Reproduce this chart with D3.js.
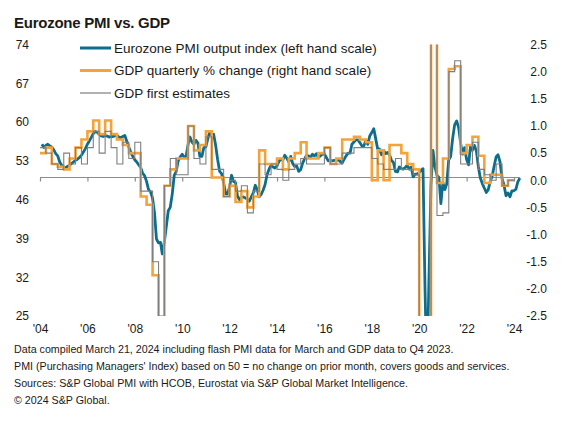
<!DOCTYPE html>
<html>
<head>
<meta charset="utf-8">
<script src="https://cdn.jsdelivr.net/npm/d3@7"></script>
<style>
  html, body { margin: 0; padding: 0; background: #fff; }
  svg { display: block; font-family: Arial, "Liberation Sans", sans-serif; }
</style>
</head>
<body>
<svg id="chart" width="574" height="424"></svg>
<script>
// ---------------- DATA ----------------
const title = "Eurozone PMI vs. GDP";
const seriesNames = [
  "Eurozone PMI output index (left hand scale)",
  "GDP quarterly % change (right hand scale)",
  "GDP first estimates"
];
const pmiStart = [2004, 0]; // monthly from Jan 2004
const pmiValues = [
  // 2004
  56.0, 55.4, 55.8, 56.0, 55.7, 55.5, 55.0, 54.3, 53.9, 52.8, 52.2, 51.8,
  // 2005
  51.8, 52.0, 52.2, 52.5, 52.8, 53.1, 53.3, 53.6, 54.0, 54.6, 55.2, 56.0,
  // 2006
  56.6, 57.2, 57.9, 58.3, 58.2, 57.8, 57.5, 57.4, 57.5, 57.5, 57.3, 57.4,
  // 2007
  57.4, 57.5, 57.6, 57.3, 57.2, 57.4, 57.6, 56.5, 55.5, 54.6, 53.8, 53.2,
  // 2008
  52.8, 52.3, 51.8, 50.8, 50.3, 49.3, 47.8, 47.4, 46.3, 43.6, 38.9, 38.2,
  // 2009
  38.3, 36.2, 38.3, 41.1, 44.0, 44.6, 47.0, 50.4, 51.1, 53.0, 53.7, 54.2,
  // 2010
  53.7, 53.7, 55.9, 57.3, 56.4, 56.0, 56.7, 56.2, 53.8, 53.8, 55.4, 55.5,
  // 2011
  57.0, 58.2, 57.6, 57.8, 55.8, 53.3, 51.1, 50.7, 49.1, 47.1, 47.0, 48.3,
  // 2012
  50.4, 49.3, 49.1, 46.7, 46.0, 46.4, 46.5, 46.3, 46.1, 45.7, 46.5, 47.2,
  // 2013
  48.6, 47.9, 46.5, 46.9, 47.7, 48.7, 50.5, 51.5, 52.2, 51.9, 51.7, 52.1,
  // 2014
  52.9, 53.3, 53.1, 54.0, 53.5, 52.8, 53.8, 52.5, 52.0, 52.1, 51.1, 51.4,
  // 2015
  52.6, 53.3, 54.0, 53.9, 53.6, 54.2, 53.9, 54.3, 53.6, 53.9, 54.2, 54.3,
  // 2016
  53.6, 53.0, 53.1, 53.0, 53.1, 53.1, 53.2, 52.9, 52.6, 53.3, 53.9, 54.4,
  // 2017
  54.4, 56.0, 56.4, 56.8, 56.8, 56.3, 55.7, 55.7, 56.7, 56.0, 57.5, 58.1,
  // 2018
  58.8, 57.1, 55.2, 55.1, 54.1, 54.9, 54.3, 54.5, 54.1, 53.1, 52.7, 51.1,
  // 2019
  51.0, 51.9, 51.6, 51.5, 51.8, 52.2, 51.5, 51.9, 50.1, 50.6, 50.6, 50.9,
  // 2020
  51.3, 51.6, 29.7, 13.6, 31.9, 48.5, 54.9, 51.9, 50.4, 50.0, 45.3, 49.1,
  // 2021
  47.8, 48.8, 53.2, 53.8, 57.1, 59.5, 60.2, 59.0, 56.2, 54.2, 55.4, 53.3,
  // 2022
  52.3, 55.5, 54.9, 55.8, 54.8, 52.0, 49.9, 48.9, 48.1, 47.3, 47.8, 49.3,
  // 2023
  50.3, 52.0, 53.7, 54.1, 52.8, 49.9, 48.6, 46.7, 47.2, 46.5, 47.6, 47.6,
  // 2024
  47.9, 49.2, 49.9
];
const gdpStart = [2004, 0]; // quarterly from Q1 2004
const gdpRevised = [
  0.5, 0.6, 0.3, 0.25,     // 2004
  0.2, 0.4, 0.6, 0.75,     // 2005
  0.9, 1.1, 0.85, 1.1,     // 2006
  0.85, 0.75, 0.65, 0.5,   // 2007
  0.5, -0.3, -0.45, -1.75, // 2008
  -3.1, -0.1, 0.2, 0.4,    // 2009
  0.4, 1.0, 0.55, 0.65,    // 2010
  0.9, 0.05, 0.05, -0.3,   // 2011
  -0.1, -0.4, -0.2, -0.5,  // 2012
  -0.3, 0.55, 0.3, 0.3,    // 2013
  0.4, 0.2, 0.4, 0.5,      // 2014
  0.7, 0.4, 0.4, 0.5,      // 2015
  0.6, 0.3, 0.4, 0.75,     // 2016
  0.75, 0.8, 0.75, 0.7,    // 2017
  0.0, 0.55, 0.0, 0.65,    // 2018
  0.65, 0.5, 0.3, 0.2,     // 2019
  -3.4, -11.2, 11.8, -0.05,// 2020
  0.4, 2.05, 2.1, 0.5,     // 2021
  0.65, 0.8, 0.45, -0.05,  // 2022
  0.1, 0.1, -0.1, 0.0      // 2023
];
const gdpFirst = [
  0.6, 0.5, 0.3, 0.2,      // 2004
  0.5, 0.3, 0.6, 0.3,      // 2005
  0.6, 0.9, 0.5, 0.9,      // 2006
  0.6, 0.3, 0.7, 0.4,      // 2007
  0.7, -0.2, -0.2, -1.5,   // 2008
  -2.5, -0.1, 0.4, 0.1,    // 2009
  0.1, 1.0, 0.4, 0.3,      // 2010
  0.8, 0.2, 0.2, -0.3,     // 2011
  0.0, -0.2, -0.1, -0.6,   // 2012
  -0.2, 0.3, 0.1, 0.3,     // 2013
  0.2, 0.0, 0.2, 0.3,      // 2014
  0.4, 0.3, 0.3, 0.3,      // 2015
  0.6, 0.3, 0.3, 0.5,      // 2016
  0.5, 0.6, 0.6, 0.6,      // 2017
  0.4, 0.3, 0.2, 0.2,      // 2018
  0.4, 0.2, 0.2, 0.1,      // 2019
  -3.8, -12.1, 12.7, -0.65,// 2020
  -0.6, 2.0, 2.2, 0.3,     // 2021
  0.3, 0.7, 0.2, 0.1,      // 2022
  0.0, 0.3, -0.1, 0.0      // 2023
];
const leftTicks = [25, 32, 39, 46, 53, 60, 67, 74];
const rightTicks = [-2.5, -2.0, -1.5, -1.0, -0.5, 0.0, 0.5, 1.0, 1.5, 2.0, 2.5];
const xTickYears = [2004, 2006, 2008, 2010, 2012, 2014, 2016, 2018, 2020, 2022, 2024];
const xTickLabels = ["'04", "'06", "'08", "'10", "'12", "'14", "'16", "'18", "'20", "'22", "'24"];
const footnotes = [
  "Data compiled March 21, 2024 including flash PMI data for March and GDP data to Q4 2023.",
  "PMI (Purchasing Managers' Index) based on 50 = no change on prior month, covers goods and services.",
  "Sources: S&P Global PMI with HCOB, Eurostat via S&P Global Market Intelligence.",
  "\u00A9 2024 S&P Global."
];

// ---------------- CHART ----------------
const COL_PMI = "#0f6d8c";
const COL_GDP = "#f4a33b";
const COL_FIRST = "#7f7f7f";
const TXT = "#1a1a1a";
const FONT = "Arial, 'Liberation Sans', sans-serif";

const svg = d3.select("#chart");
svg.append("rect").attr("width", 574).attr("height", 424).attr("fill", "#fff");

const x = d3.scaleTime()
  .domain([new Date(2004, 0, 1), new Date(2024, 0, 1)])
  .range([40, 514]);
const yL = d3.scaleLinear().domain([25, 74]).range([316, 44.5]);
const yR = d3.scaleLinear().domain([-2.5, 2.5]).range([316, 44.5]);

const pmi = pmiValues.map((v, i) => ({
  date: new Date(pmiStart[0], pmiStart[1] + i + 1, 0),
  v
}));
function quarterly(arr) {
  const recs = arr.map((v, i) => ({ date: new Date(gdpStart[0], gdpStart[1] + i * 3, 1), v }));
  recs.push({ date: new Date(gdpStart[0], gdpStart[1] + arr.length * 3, 1), v: arr[arr.length - 1] });
  return recs;
}
const gdpR = quarterly(gdpRevised);
const gdpF = quarterly(gdpFirst);

svg.append("clipPath").attr("id", "plotclip")
  .append("rect").attr("x", 30).attr("y", 44.5).attr("width", 510).attr("height", 316 - 44.5);

// title
svg.append("text").attr("x", 14).attr("y", 27.5)
  .attr("font-size", 15).attr("font-weight", "bold").attr("fill", TXT)
  .attr("letter-spacing", -0.25)
  .text(title);

// baseline axis at PMI 50 with ticks
const axisY = yL(50);
svg.append("line")
  .attr("x1", x(new Date(2004, 0, 1))).attr("x2", x(pmi[pmi.length - 1].date))
  .attr("y1", axisY).attr("y2", axisY)
  .attr("stroke", "#8c8c8c").attr("stroke-width", 1.2);
const tickAxis = d3.axisBottom(x)
  .tickValues(xTickYears.map(yv => new Date(yv, 0, 1)))
  .tickSize(4).tickFormat("");
const gT = svg.append("g").attr("transform", `translate(0,${axisY})`).call(tickAxis);
gT.select(".domain").remove();
gT.selectAll(".tick line").attr("stroke", "#8c8c8c").attr("stroke-width", 1.2);

// x labels at bottom
const labelAxis = d3.axisBottom(x)
  .tickValues(xTickYears.map(yv => new Date(yv, 0, 1)))
  .tickSize(0).tickPadding(0)
  .tickFormat((d, i) => xTickLabels[i]);
const gX = svg.append("g").attr("transform", "translate(0,324)").call(labelAxis);
gX.select(".domain").remove();
gX.selectAll("text").attr("font-size", 12).attr("fill", TXT).attr("font-family", FONT);

// left axis
const gL = svg.append("g").attr("transform", "translate(29,0)")
  .call(d3.axisLeft(yL).tickValues(leftTicks).tickSize(0).tickPadding(0));
gL.select(".domain").remove();
gL.selectAll("text").attr("font-size", 12).attr("fill", TXT).attr("font-family", FONT);

// right axis
const gR = svg.append("g").attr("transform", "translate(547,0)")
  .call(d3.axisRight(yR).tickValues(rightTicks).tickSize(0).tickPadding(0)
    .tickFormat(d => d.toFixed(1)));
gR.select(".domain").remove();
gR.selectAll("text").attr("font-size", 12).attr("fill", TXT)
  .attr("text-anchor", "end").attr("x", 0).attr("font-family", FONT);

// lines
const plot = svg.append("g").attr("clip-path", "url(#plotclip)");
const linePMI = d3.line().x(d => x(d.date)).y(d => yL(d.v));
const lineGDP = d3.line().x(d => x(d.date)).y(d => yR(d.v)).curve(d3.curveStepAfter);

plot.append("path").datum(pmi).attr("d", linePMI)
  .attr("fill", "none").attr("stroke", COL_PMI).attr("stroke-width", 2.8)
  .attr("stroke-linejoin", "round");
plot.append("path").datum(gdpR).attr("d", lineGDP)
  .attr("fill", "none").attr("stroke", COL_GDP).attr("stroke-width", 2.6);
plot.append("path").datum(gdpF).attr("d", lineGDP)
  .attr("fill", "none").attr("stroke", COL_FIRST).attr("stroke-width", 1.1);

// legend
const legY = [48, 70.5, 93];
const legCol = [COL_PMI, COL_GDP, COL_FIRST];
const legW = [3, 3, 1.2];
const leg = svg.append("g");
seriesNames.forEach((name, i) => {
  leg.append("line").attr("x1", 80).attr("x2", 111)
    .attr("y1", legY[i]).attr("y2", legY[i])
    .attr("stroke", legCol[i]).attr("stroke-width", legW[i]);
  leg.append("text").attr("x", 114).attr("y", legY[i] + 4.7)
    .attr("font-size", 13.5).attr("fill", TXT).text(name);
});

// footnotes
footnotes.forEach((t, i) => {
  svg.append("text").attr("x", 14).attr("y", 352.5 + i * 17)
    .attr("font-size", 10.7).attr("fill", TXT).text(t);
});
</script>
</body>
</html>
